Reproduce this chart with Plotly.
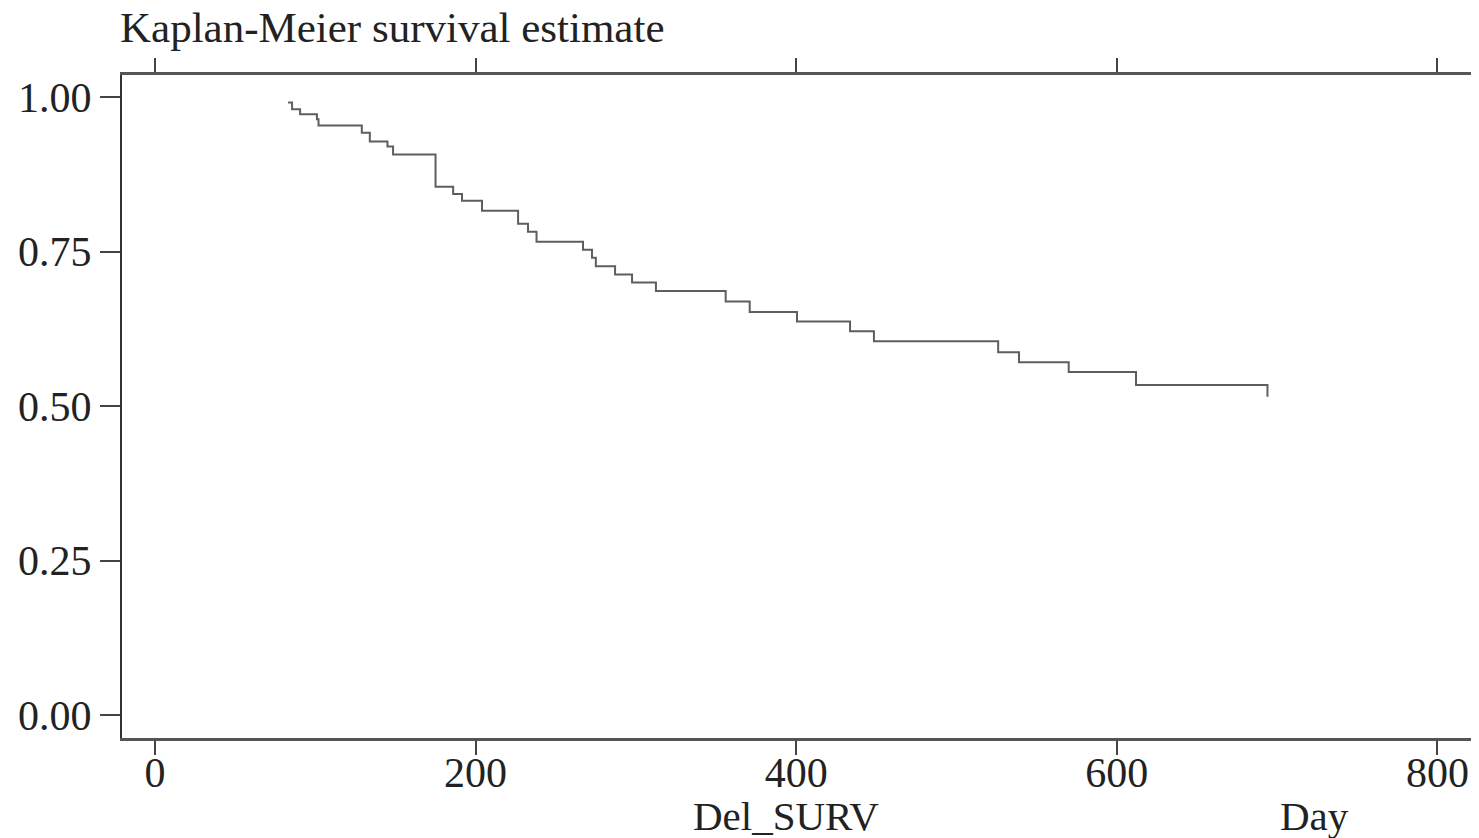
import plotly.graph_objects as go

# Kaplan-Meier step data (time in days, survival probability)
times = [83, 85.5, 90.5, 101, 102, 129, 134, 145, 148.5, 175, 186, 191.5, 204,
         226.5, 232.7, 238, 267, 272.6, 275, 287, 297.6, 312.5, 356, 371, 400.5,
         433.6, 448.5, 526, 539, 570, 612, 694]
surv = [0.991, 0.980, 0.972, 0.964, 0.954, 0.942, 0.928, 0.920, 0.907, 0.855,
        0.843, 0.832, 0.816, 0.795, 0.782, 0.766, 0.753, 0.740, 0.726, 0.713,
        0.700, 0.686, 0.669, 0.652, 0.637, 0.621, 0.605, 0.587, 0.571, 0.555,
        0.534, 0.515]

x_ticks = [0, 200, 400, 600, 800]
y_ticks = [0.00, 0.25, 0.50, 0.75, 1.00]
y_tick_labels = ["0.00", "0.25", "0.50", "0.75", "1.00"]

FONT = "Liberation Serif, Times New Roman, serif"

W, H = 1471, 830  # page adds ~8px offset

fig = go.Figure()
fig.add_trace(go.Scatter(
    x=times, y=surv, mode="lines", line_shape="hv",
    line=dict(color="#5e5e5e", width=2), showlegend=False, hoverinfo="x+y"))

fig.update_layout(
    width=W, height=H,
    paper_bgcolor="white", plot_bgcolor="white",
    margin=dict(l=114, r=7, t=67, b=100, autoexpand=False),
    font=dict(family=FONT, color="#222"),
    title=dict(text="Kaplan-Meier survival estimate", x=112/W, xanchor="left",
               y=1 - 19/H, yanchor="middle", yref="container",
               font=dict(family=FONT, size=43, color="#222")),
    xaxis=dict(range=[-20.6, 821.6], tickvals=x_ticks, ticks="outside", ticklen=14,
               tickwidth=2, tickcolor="#444", showline=True, linecolor="#555",
               linewidth=3, mirror="ticks", showgrid=False, zeroline=False,
               automargin=False, ticklabelstandoff=-18,
               tickfont=dict(family=FONT, size=42, color="#222")),
    yaxis=dict(range=[-0.037, 1.0356], tickvals=y_ticks, ticktext=y_tick_labels,
               ticks="outside", ticklen=20, tickwidth=2, tickcolor="#444",
               showline=True, linecolor="#333", linewidth=2, mirror="ticks",
               showgrid=False, zeroline=False, automargin=False,
               tickfont=dict(family=FONT, size=42, color="#222")),
    annotations=[
        dict(text="Del_SURV", xref="paper", yref="paper", x=(786-122)/1350,
             y=(738-816)/663, xanchor="center", yanchor="middle", showarrow=False,
             font=dict(family=FONT, size=41, color="#222")),
        dict(text="Day", xref="paper", yref="paper", x=(1314-122)/1350,
             y=(738-816)/663, xanchor="center", yanchor="middle", showarrow=False,
             font=dict(family=FONT, size=41, color="#222")),
    ],
)

fig.write_html("out.html")
